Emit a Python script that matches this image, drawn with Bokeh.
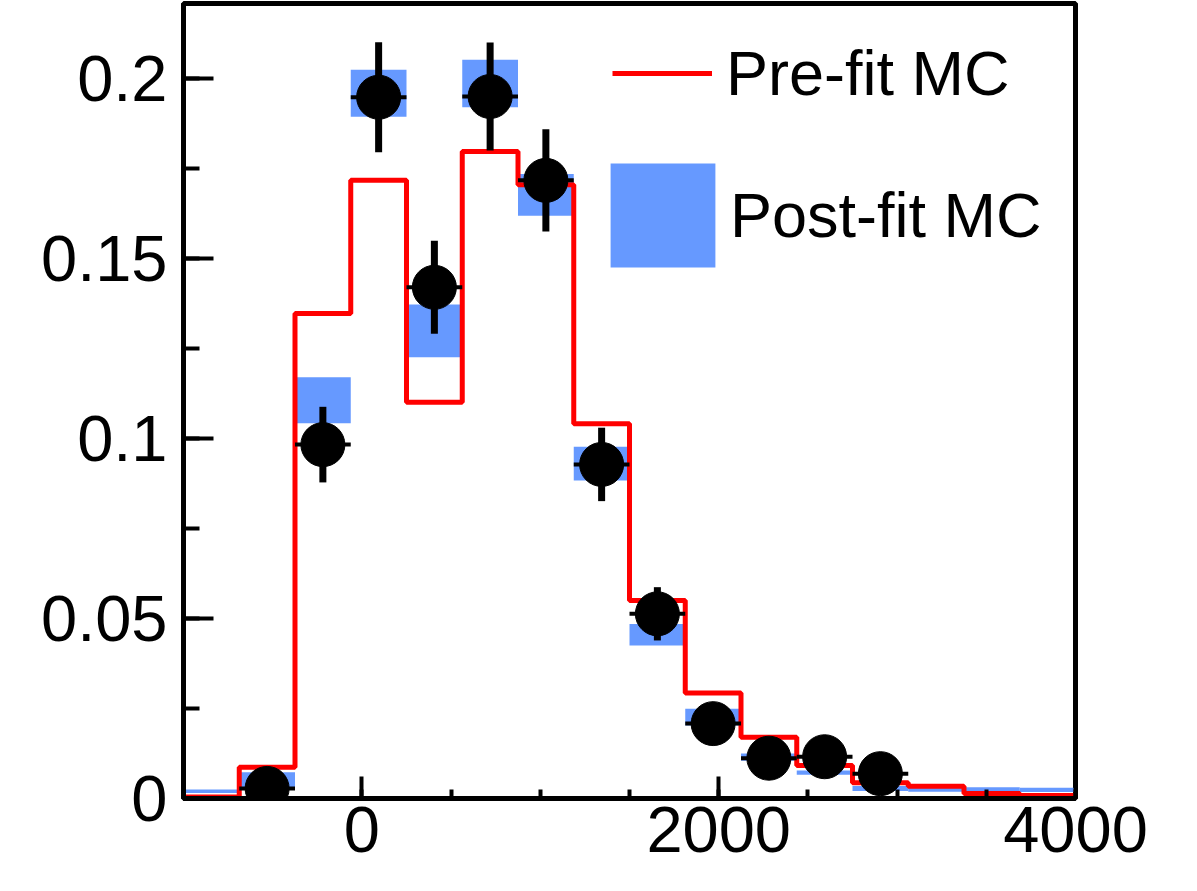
from bokeh.plotting import figure
from bokeh.models import (ColumnDataSource, SingleIntervalTicker, CustomJSTickFormatter,
                          Legend, LegendItem)
from bokeh.embed import file_html
from bokeh.resources import INLINE

# ---- data ----
bin_edges = [-1000.0, -687.5, -375.0, -62.5, 250.0, 562.5, 875.0, 1187.5, 1500.0,
             1812.5, 2125.0, 2437.5, 2750.0, 3062.5, 3375.0, 3687.5, 4000.0]
prefit_mc = [0.0004, 0.0087, 0.1347, 0.1717, 0.1101, 0.1797, 0.1705, 0.1041,
             0.0550, 0.0293, 0.0170, 0.0092, 0.0044, 0.0034, 0.0014, 0.0008]
postfit_mc = [0.0020, 0.0052, 0.1106, 0.1959, 0.1299, 0.1986, 0.1677, 0.0930,
              0.0455, 0.0226, 0.0115, 0.0072, 0.0028, 0.0025, 0.0025, 0.0024]
postfit_err = [0.0005, 0.0021, 0.0064, 0.0065, 0.0073, 0.0066, 0.0058, 0.0047,
               0.0030, 0.0023, 0.0010, 0.0006, 0.0007, 0.0006, 0.0006, 0.0006]
data_bins = [1, 2, 3, 4, 5, 6, 7, 8, 9, 10, 11, 12]   # indices of bins with data
data_vals = [0.0028, 0.0983, 0.1948, 0.1420, 0.1950, 0.1717, 0.0928, 0.0513,
             0.0208, 0.0112, 0.0116, 0.0069]
data_err = [0.0020, 0.0105, 0.0153, 0.0129, 0.0150, 0.0142, 0.0102, 0.0074,
            0.0045, 0.0035, 0.0035, 0.0025]

FONT = "Liberation Sans"

# ---- derived sources ----
lefts = bin_edges[:-1]
rights = bin_edges[1:]
centers = [(a + b) / 2 for a, b in zip(lefts, rights)]

post_src = ColumnDataSource(dict(
    left=lefts, right=rights,
    bottom=[v - e for v, e in zip(postfit_mc, postfit_err)],
    top=[v + e for v, e in zip(postfit_mc, postfit_err)]))

data_src = ColumnDataSource(dict(
    x=[centers[i] for i in data_bins],
    xl=[lefts[i] for i in data_bins],
    xr=[rights[i] for i in data_bins],
    y=data_vals,
    ylo=[v - e for v, e in zip(data_vals, data_err)],
    yhi=[v + e for v, e in zip(data_vals, data_err)]))

p = figure(width=1190, height=885, x_range=(-1000, 4000), y_range=(0, 0.22083),
           output_backend="svg", toolbar_location=None,
           min_border_left=183, min_border_right=115, min_border_top=3,
           min_border_bottom=87)

p.xgrid.visible = False
p.ygrid.visible = False
p.outline_line_color = "black"
p.outline_line_width = 5
p.background_fill_color = "white"
p.border_fill_color = "white"

# post-fit band
post_r = p.quad(left="left", right="right", bottom="bottom", top="top",
                source=post_src, fill_color="#6699ff", line_color=None)
# pre-fit step
pre_r = p.step(x=bin_edges, y=prefit_mc + [prefit_mc[-1]], mode="after",
               line_color="#ff0000", line_width=5)
# data error bars
p.segment(x0="x", x1="x", y0="ylo", y1="yhi", source=data_src,
          line_color="black", line_width=7)
p.segment(x0="xl", x1="xr", y0="y", y1="y", source=data_src,
          line_color="black", line_width=4)
p.scatter(x="x", y="y", source=data_src, size=44, marker="circle",
          fill_color="black", line_color="black")

# axes
for ax in (p.xaxis[0], p.yaxis[0]):
    ax.axis_line_width = 5
    ax.axis_line_color = "black"
    ax.major_tick_out = 0
    ax.minor_tick_out = 0
    ax.major_tick_line_width = 4
    ax.minor_tick_line_width = 4
    ax.major_tick_line_color = "black"
    ax.minor_tick_line_color = "black"
    ax.major_label_text_font = FONT
    ax.major_label_text_font_size = "65px"
    ax.major_label_text_color = "black"

p.xaxis.ticker = SingleIntervalTicker(interval=2000, num_minor_ticks=4)
p.xaxis.major_tick_in = 22
p.xaxis.minor_tick_in = 9
p.xaxis.major_label_standoff = 8

p.yaxis.ticker = SingleIntervalTicker(interval=0.05, num_minor_ticks=2)
p.yaxis.major_tick_in = 30
p.yaxis.minor_tick_in = 16
p.yaxis.major_label_standoff = 16
p.yaxis.formatter = CustomJSTickFormatter(code="return Number(tick.toFixed(3)).toString();")

# legends
leg1 = Legend(items=[LegendItem(label="Pre-fit MC", renderers=[pre_r])],
              location=(429, 685), glyph_width=100, glyph_height=80,
              label_standoff=14, padding=0, margin=0, spacing=0,
              border_line_color=None, background_fill_alpha=0,
              label_text_font=FONT, label_text_font_size="63px",
              label_text_color="black")
leg2 = Legend(items=[LegendItem(label="Post-fit MC", renderers=[post_r])],
              location=(414, 518), glyph_width=131, glyph_height=130,
              label_standoff=2, padding=0, margin=0, spacing=0,
              border_line_color=None, background_fill_alpha=0,
              label_text_font=FONT, label_text_font_size="63px",
              label_text_color="black")
p.add_layout(leg1, "center")
p.add_layout(leg2, "center")

open("out.html", "w").write(file_html(p, INLINE))
